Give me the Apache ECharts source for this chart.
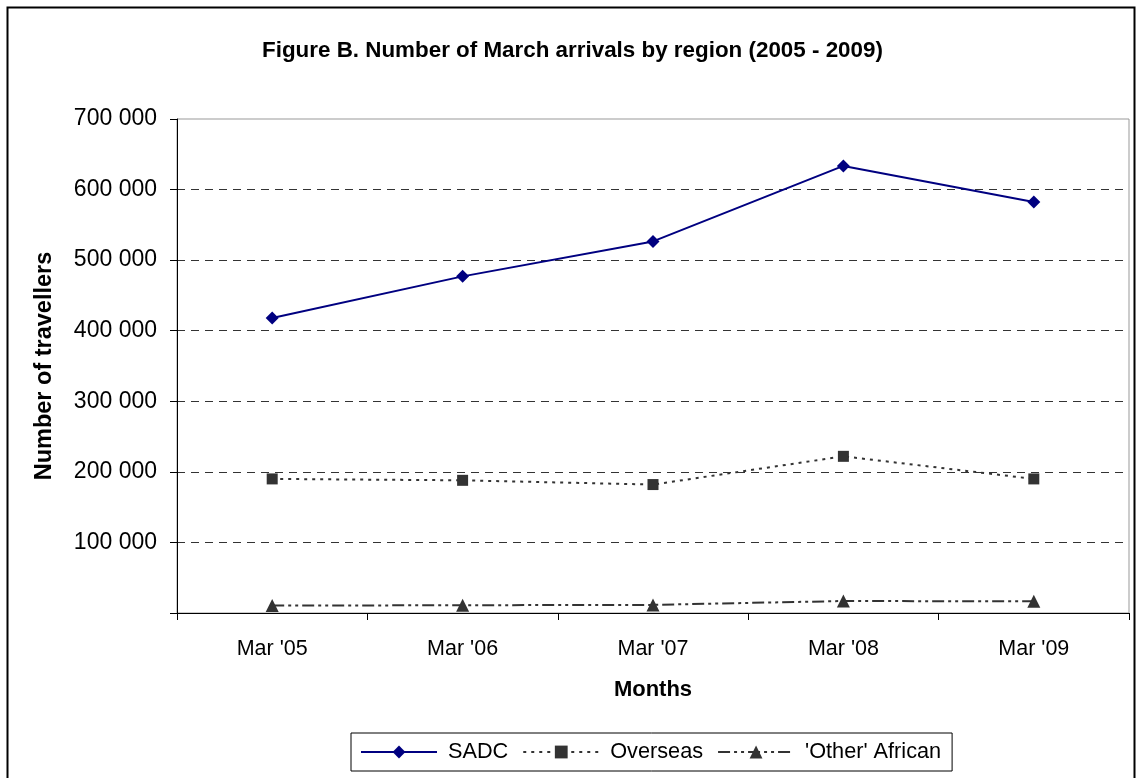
<!DOCTYPE html>
<html>
<head>
<meta charset="utf-8">
<title>Figure B. Number of March arrivals by region</title>
<script src="https://cdn.jsdelivr.net/npm/echarts@6/dist/echarts.min.js"></script>
<style>
    html, body {margin: 0; padding: 0; background: #fff;}
    #main {width: 1136px; height: 778px;}
</style>
</head>
<body>
<div id="main"></div>
<script>
// data
const months = ["Mar '05", "Mar '06", "Mar '07", "Mar '08", "Mar '09"];
const sadc = [418000, 477000, 526500, 633500, 582500];
const overseas = [190000, 188000, 182000, 222000, 190000];
const otherAfrican = [10500, 11000, 11500, 17000, 16500];
const yTickLabels = ['', '100 000', '200 000', '300 000', '400 000', '500 000', '600 000', '700 000'];

const font = 'Liberation Sans, Arial, sans-serif';

const chart = echarts.init(document.getElementById('main'));

const option = {
    animation: false,
    backgroundColor: '#fff',
    textStyle: {fontFamily: font, color: '#000'},
    title: {
        text: 'Figure B. Number of March arrivals by region (2005 - 2009)',
        left: 262,
        top: 40,
        padding: 0,
        textStyle: {fontFamily: font, fontSize: 22.4, fontWeight: 'bold', color: '#000'}
    },
    graphic: [{
        // outer chart frame
        type: 'rect',
        shape: {x: 7.5, y: 7.5, width: 1127, height: 800},
        style: {fill: 'none', stroke: '#000', lineWidth: 2},
        silent: true
    }],
    grid: {
        left: 177, right: 7, top: 119, bottom: 165,
        show: true,
        borderColor: '#999',
        borderWidth: 1,
        backgroundColor: 'transparent'
    },
    legend: {
        left: 351,
        top: 733,
        padding: [8, 11, 8, 9],
        itemWidth: 76,
        itemHeight: 16,
        itemGap: 14,
        borderColor: '#000',
        borderWidth: 1,
        borderRadius: 0,
        textStyle: {fontFamily: font, fontSize: 21.7, color: '#000', padding: [0, 0, 0, 6]},
        data: ['SADC', 'Overseas', "'Other' African"]
    },
    xAxis: {
        type: 'category',
        data: months,
        boundaryGap: true,
        axisLine: {lineStyle: {color: '#000', width: 1}},
        axisTick: {show: true, length: 7, lineStyle: {color: '#000'}},
        axisLabel: {fontFamily: font, fontSize: 21.5, color: '#000', margin: 25},
        name: 'Months',
        nameLocation: 'middle',
        nameGap: 66,
        nameTextStyle: {fontFamily: font, fontSize: 22, fontWeight: 'bold', color: '#000'}
    },
    yAxis: {
        type: 'value',
        min: 0,
        max: 700000,
        interval: 100000,
        axisLine: {show: true, lineStyle: {color: '#000', width: 1}},
        axisTick: {show: true, length: 7, lineStyle: {color: '#000'}},
        axisLabel: {
            fontFamily: font, fontSize: 23, color: '#000', margin: 20,
            formatter: v => yTickLabels[Math.round(v / 100000)]
        },
        splitLine: {
            show: true,
            showMinLine: false,
            showMaxLine: false,
            lineStyle: {color: '#333', width: 1, type: [8, 6]}
        },
        name: 'Number of travellers',
        nameLocation: 'middle',
        nameGap: 120,
        nameTextStyle: {fontFamily: font, fontSize: 23.5, fontWeight: 'bold', color: '#000'}
    },
    series: [
        {
            name: 'SADC',
            type: 'line',
            data: sadc,
            symbol: 'diamond',
            symbolSize: 13,
            lineStyle: {color: '#000080', width: 2, type: 'solid'},
            itemStyle: {color: '#000080'},
            z: 5
        },
        {
            name: 'Overseas',
            type: 'line',
            data: overseas,
            symbol: 'rect',
            symbolSize: 11,
            lineStyle: {color: '#333', width: 2, type: [3, 5]},
            itemStyle: {color: '#333'}
        },
        {
            name: "'Other' African",
            type: 'line',
            data: otherAfrican,
            symbol: 'triangle',
            symbolSize: 13,
            lineStyle: {color: '#333', width: 2, type: [12, 4, 3, 4, 3, 4]},
            itemStyle: {color: '#333'}
        }
    ]
};

chart.setOption(option);
</script>
</body>
</html>
